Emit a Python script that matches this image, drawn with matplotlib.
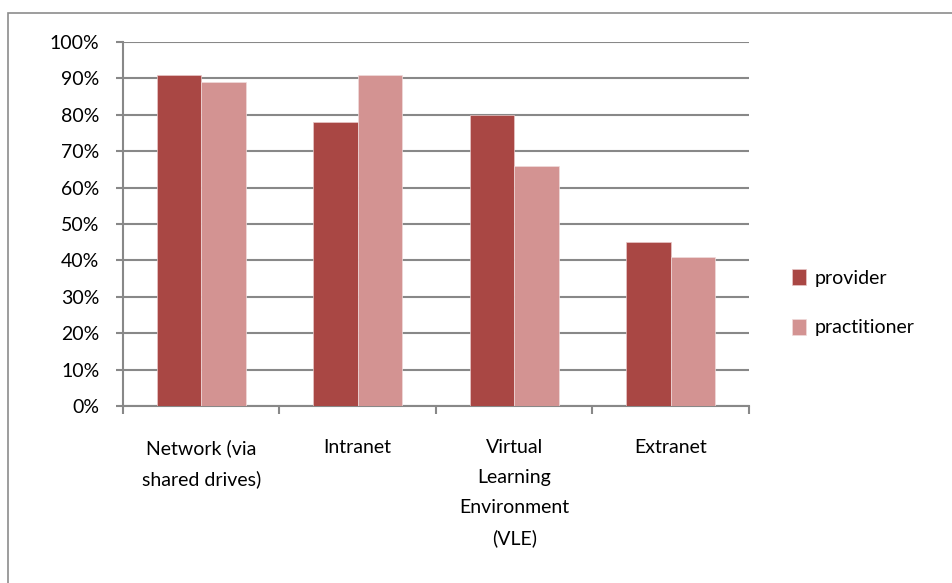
import numpy as np
import matplotlib
matplotlib.use("Agg")
import matplotlib.pyplot as plt
from matplotlib.patches import Rectangle

plt.rcParams['font.family'] = ['Lato', 'DejaVu Sans']

categories = ["Network (via\nshared drives)", "Intranet",
              "Virtual\nLearning\nEnvironment\n(VLE)", "Extranet"]
provider = [91, 78, 80, 45]
practitioner = [89, 91, 66, 41]

c_prov = "#A94744"
c_prac = "#D39392"
grid_c = "#888888"
fs = 14

fig = plt.figure(figsize=(9.53, 5.83), dpi=100)
# outer chart frame
fig.patches.append(Rectangle((8 / 953, -0.05), 1.1, 1 - 13 / 583 + 0.05,
                             transform=fig.transFigure, fill=False,
                             edgecolor="#8c8c8c", linewidth=1.2))
ax = fig.add_axes([123 / 953, 1 - 406 / 583, 626 / 953, 364 / 583])

x = np.arange(len(categories))
w = 1 / 3.5
ax.bar(x - w / 2, provider, w, color=c_prov, edgecolor="#e8c8c8", linewidth=0.5,
       label="provider", zorder=3)
ax.bar(x + w / 2, practitioner, w, color=c_prac, edgecolor="#f0dcdc", linewidth=0.5,
       label="practitioner", zorder=3)

ax.set_xlim(-0.5, len(categories) - 0.5)
ax.set_ylim(0, 100)
ax.set_yticks(np.arange(0, 101, 10))
ax.set_yticklabels([f"{v}%" for v in range(0, 101, 10)], fontsize=fs)
ax.yaxis.grid(True, color=grid_c, linewidth=1.5, zorder=0)
ax.set_axisbelow(True)

ax.set_xticks(np.arange(-0.5, len(categories), 1))
ax.set_xticklabels([])
ax.set_xticks(x, minor=True)
ax.set_xticklabels(categories, minor=True, fontsize=fs, linespacing=1.9, va="top")
ax.tick_params(axis="x", which="minor", length=0, pad=24)
ax.tick_params(axis="x", which="major", length=6, width=1.5, color=grid_c, direction="out")
ax.tick_params(axis="y", length=5, width=1.5, color=grid_c, pad=12)

for s in ["top", "right"]:
    ax.spines[s].set_visible(False)
for s in ["left", "bottom"]:
    ax.spines[s].set_color(grid_c)
    ax.spines[s].set_linewidth(1.5)

ax.legend(loc="center left", bbox_to_anchor=(1.04, 0.284), frameon=False,
          fontsize=fs, handlelength=0.75, handleheight=0.9, handletextpad=0.45,
          labelspacing=1.65)

plt.savefig("out.png", dpi=100)
